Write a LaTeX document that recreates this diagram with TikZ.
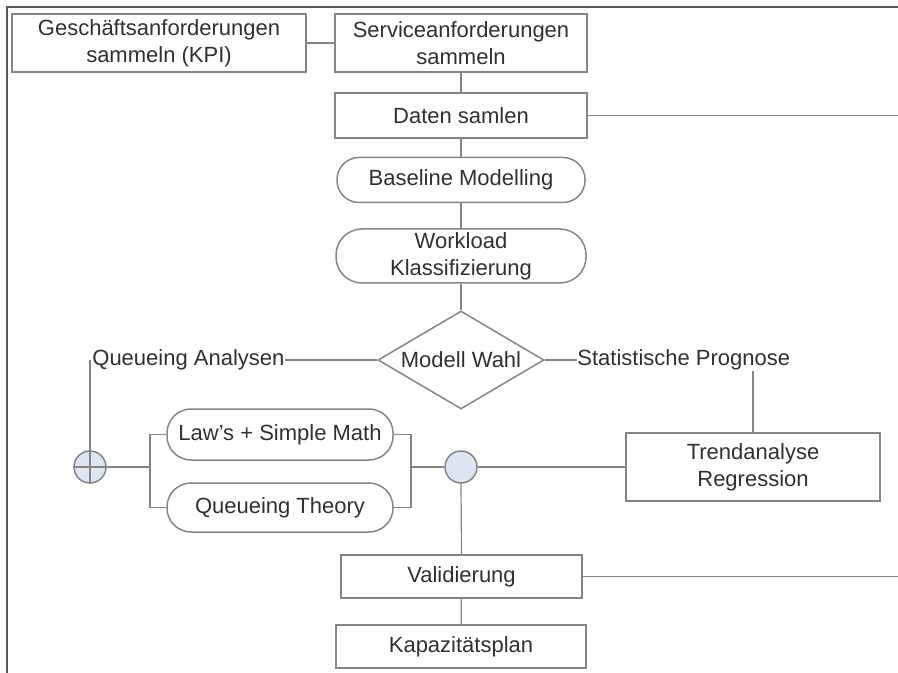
\documentclass[tikz,border=0pt]{standalone}
\usepackage{fontspec}
\setmainfont{Liberation Sans}
\usetikzlibrary{shapes.geometric}
\definecolor{rimgray}{HTML}{858585}
\definecolor{textgray}{HTML}{303030}
\definecolor{knotblue}{HTML}{DFE4F2}
\begin{document}
\begin{tikzpicture}[x=0.5pt,y=-0.5pt]
            \tikzstyle{every node}+=[inner sep=0pt, text=textgray, font=\fontsize{11}{13.5}\selectfont, align=center]
            \tikzstyle{box}=[draw=rimgray, line width=0.75pt, rectangle]
            \tikzstyle{roundbox}=[draw=rimgray, line width=0.75pt, rectangle, rounded corners=11pt]
            \tikzstyle{knot}=[draw=rimgray, line width=0.75pt, circle, fill=knotblue, minimum size=16pt]
            \tikzstyle{wire}=[rimgray, line width=0.6pt]
            \useasboundingbox (0,0) rectangle (898,673);
            \draw [black!65, line width=1pt] (898,7) -- (7,7) -- (7,673);
            \draw (159,43) node [box, minimum width=147pt, minimum height=29pt] (kpi) {Geschäftsanforderungen\\sammeln (KPI)};
            \draw (461,43) node [box, minimum width=126pt, minimum height=29pt] (service) {Serviceanforderungen\\sammeln};
            \draw (461,115.5) node [box, minimum width=126pt, minimum height=22.5pt] (daten) {Daten samlen};
            \draw (461,180) node [roundbox, minimum width=124pt, minimum height=22.5pt] (baseline) {Baseline Modelling};
            \draw (461,256) node [roundbox, rounded corners=13pt, minimum width=125pt, minimum height=27pt] (workload) {Workload\\Klassifizierung};
            \draw (461,360) node [draw=rimgray, line width=0.75pt, diamond, aspect=1.7, minimum width=83pt, minimum height=49pt] (wahl) {Modell Wahl};
            \draw (92,360) node [anchor=west] (queueing) {Queueing Analysen};
            \draw (577,360) node [anchor=west] (prognose) {Statistische Prognose};
            \draw (90,467) node [knot] (split) {};
            \draw (280,434.5) node [roundbox, rounded corners=12pt, minimum width=113pt, minimum height=25.5pt] (laws) {Law’s + Simple Math};
            \draw (280,507.5) node [roundbox, rounded corners=12pt, minimum width=113pt, minimum height=24.5pt] (theory) {Queueing Theory};
            \draw (461,467) node [knot] (join) {};
            \draw (753,467) node [box, minimum width=127pt, minimum height=34pt] (trend) {Trendanalyse\\Regression};
            \draw (461.5,576.5) node [box, minimum width=120.5pt, minimum height=21.5pt] (valid) {Validierung};
            \draw (461,646.5) node [box, minimum width=125pt, minimum height=21.5pt] (plan) {Kapazitätsplan};
            \coordinate (fork) at (150,467);
            \coordinate (merge) at (411,467);
            \coordinate (datenend) at (898,115.5);
            \coordinate (validend) at (898,576.5);
            % upper chain
            \draw [wire] (kpi.east) -- (service.west);
            \draw [wire] (service) -- (daten);
            \draw [wire] (daten.east) -- (datenend);
            \draw [wire] (daten) -- (baseline);
            \draw [wire] (baseline) -- (workload);
            \draw [wire] (workload) -- (wahl.north);
            % decision branches
            \draw [wire] (wahl.west) -- (queueing.east);
            \draw [wire] (wahl.east) -- (prognose.west);
            \draw [wire] (split.north |- queueing.west) -- (split.south);
            \draw [wire] (split.west) -- (fork);
            \draw [wire] (laws.west) -| (fork) |- (theory.west);
            \draw [wire] (laws.east) -| (merge) |- (theory.east);
            \draw [wire] (merge) -- (join.west);
            \draw [wire] (trend.north |- prognose.south) -- (trend.north);
            \draw [wire] (join.east) -- (trend.west);
            % lower chain
            \draw [wire] (join.south) -- (valid.north);
            \draw [wire] (valid.east) -- (validend);
            \draw [wire] (valid) -- (plan);
        \end{tikzpicture}
\end{document}
